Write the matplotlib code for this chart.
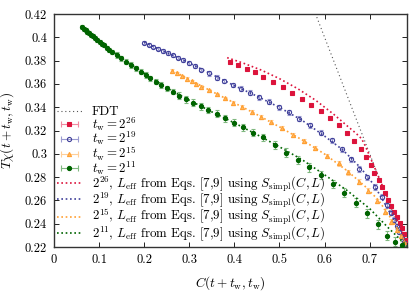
import matplotlib
matplotlib.use('Agg')
import matplotlib.pyplot as plt
from matplotlib.lines import Line2D
from matplotlib.legend_handler import HandlerLine2D
from matplotlib.ticker import FormatStrFormatter
import numpy as np

plt.rcParams['font.family'] = 'serif'
plt.rcParams['font.serif'] = ['cmr10']
plt.rcParams['mathtext.fontset'] = 'cm'
plt.rcParams['axes.formatter.use_mathtext'] = True

# data points, t_w = 2^26
c_26 = [0.390, 0.409, 0.427, 0.446, 0.464, 0.486, 0.507, 0.528, 0.550, 0.571, 0.592, 0.613, 0.631, 0.649, 0.665,
        0.680, 0.692, 0.702, 0.710, 0.721, 0.727, 0.734, 0.741, 0.747, 0.755, 0.760, 0.767, 0.771, 0.776, 0.780]
y_26 = [0.3791, 0.3762, 0.3731, 0.3700, 0.3659, 0.3619, 0.3573, 0.3524, 0.3473, 0.3422, 0.3367, 0.3305, 0.3245, 0.3176, 0.3110,
        0.3041, 0.2970, 0.2901, 0.2833, 0.2775, 0.2718, 0.2661, 0.2603, 0.2555, 0.2503, 0.2455, 0.2403, 0.2360, 0.2309, 0.2260]
e_26 = [0.0008] * len(c_26)

# t_w = 2^19
c_19 = [0.200, 0.210, 0.220, 0.230, 0.241, 0.252, 0.263, 0.275, 0.287, 0.299, 0.312, 0.327, 0.344, 0.361, 0.378, 0.396,
        0.415, 0.435, 0.455, 0.477, 0.499, 0.521, 0.544, 0.568, 0.591, 0.616, 0.638, 0.658, 0.677, 0.695, 0.712, 0.727,
        0.738, 0.747, 0.754, 0.760, 0.766, 0.771, 0.776]
y_19 = [0.3954, 0.3937, 0.3920, 0.3902, 0.3883, 0.3864, 0.3845, 0.3825, 0.3804, 0.3780, 0.3752, 0.3722, 0.3690, 0.3653,
        0.3625, 0.3590, 0.3559, 0.3524, 0.3485, 0.3447, 0.3399, 0.3356, 0.3301, 0.3244, 0.3181, 0.3116, 0.3040, 0.2955,
        0.2870, 0.2798, 0.2715, 0.2632, 0.2561, 0.2495, 0.2432, 0.2380, 0.2331, 0.2288, 0.2246]
e_19 = [0.0015] * 12 + [0.002] * 14 + [0.0022] * 13

# t_w = 2^15
c_15 = [0.262, 0.272, 0.283, 0.294, 0.305, 0.316, 0.327, 0.344, 0.361, 0.379, 0.398, 0.418, 0.438, 0.459, 0.481,
        0.505, 0.531, 0.555, 0.579, 0.605, 0.631, 0.653, 0.677, 0.696, 0.716, 0.733, 0.747, 0.760, 0.769, 0.775]
y_15 = [0.3713, 0.3692, 0.3668, 0.3645, 0.3621, 0.3598, 0.3576, 0.3545, 0.3511, 0.3476, 0.3439, 0.3399, 0.3359, 0.3316,
        0.3270, 0.3219, 0.3164, 0.3107, 0.3047, 0.2985, 0.2918, 0.2841, 0.2760, 0.2684, 0.2595, 0.2503, 0.2417, 0.2346,
        0.2294, 0.2246]
e_15 = [0.0012] * 10 + [0.0016] * 10 + [0.002] * 10

# t_w = 2^11
c_11 = [0.062, 0.066, 0.070, 0.074, 0.078, 0.082, 0.086, 0.091, 0.096, 0.101, 0.106, 0.111, 0.117, 0.123, 0.129,
        0.139, 0.149, 0.160, 0.171, 0.182, 0.192, 0.204, 0.214, 0.226, 0.237, 0.250, 0.265, 0.278, 0.293, 0.309,
        0.325, 0.342, 0.361, 0.379, 0.399, 0.420, 0.442, 0.464, 0.490, 0.514, 0.540, 0.565, 0.591, 0.618, 0.644,
        0.670, 0.695, 0.718, 0.739, 0.757, 0.772]
y_11 = [0.4085, 0.4072, 0.4059, 0.4046, 0.4033, 0.4020, 0.4008, 0.3992, 0.3976, 0.3960, 0.3945, 0.3930, 0.3912, 0.3894,
        0.3876, 0.3848, 0.3820, 0.3791, 0.3762, 0.3734, 0.3705, 0.3676, 0.3648, 0.3619, 0.3591, 0.3562, 0.3533, 0.3499,
        0.3468, 0.3439, 0.3410, 0.3376, 0.3342, 0.3305, 0.3267, 0.3227, 0.3181, 0.3142, 0.3076, 0.3010, 0.2947, 0.2884,
        0.2818, 0.2741, 0.2666, 0.2580, 0.2489, 0.2397, 0.2297, 0.2245, 0.2215]
e_11 = [0.0017] * 15 + [0.0022] * 12 + [0.003] * 11 + [0.0038] * 13

# theory curves (L_eff from Eqs. [7,9])
tc_26 = [0.384, 0.42, 0.46, 0.50, 0.54, 0.58, 0.62, 0.65, 0.67, 0.682, 0.690, 0.70, 0.72, 0.74, 0.76, 0.785]
ty_26 = [0.3825, 0.3778, 0.3718, 0.3645, 0.3560, 0.3460, 0.3340, 0.3240, 0.3175, 0.3130, 0.3070, 0.2980, 0.2800,
         0.2620, 0.2440, 0.2215]
tc_19 = [0.200, 0.25, 0.30, 0.35, 0.40, 0.45, 0.50, 0.55, 0.60, 0.64, 0.68, 0.71, 0.74, 0.76, 0.785]
ty_19 = [0.3958, 0.3868, 0.3780, 0.3682, 0.3585, 0.3495, 0.3398, 0.3288, 0.3152, 0.3035, 0.2880, 0.2730, 0.2530,
         0.2380, 0.2200]
tc_15 = [0.262, 0.30, 0.35, 0.40, 0.45, 0.50, 0.55, 0.60, 0.65, 0.69, 0.72, 0.75, 0.785]
ty_15 = [0.3718, 0.3637, 0.3536, 0.3437, 0.3337, 0.3231, 0.3120, 0.2998, 0.2855, 0.2720, 0.2600, 0.2430, 0.2205]
tc_11 = [0.060, 0.08, 0.10, 0.13, 0.16, 0.20, 0.25, 0.30, 0.35, 0.40, 0.45, 0.50, 0.55, 0.60, 0.65, 0.70, 0.74, 0.785]
ty_11 = [0.4092, 0.4030, 0.3966, 0.3880, 0.3795, 0.3690, 0.3565, 0.3460, 0.3360, 0.3265, 0.3165, 0.3060, 0.2950,
         0.2820, 0.2685, 0.2530, 0.2370, 0.2200]

fdt_c = np.array([0.55, 0.80])
fdt_y = 1 - fdt_c

exps = ['26', '19', '15', '11']
colors = ['#dc143c', '#40409a', '#ffa033', '#006400']
light = ['#f08aa0', '#9a9ad0', '#ffcf99', '#80b880']
markers = ['s', 'o', '^', 'o']
faces = ['#dc143c', 'none', '#ffb860', '#006400']
data = [(c_26, y_26, e_26), (c_19, y_19, e_19), (c_15, y_15, e_15), (c_11, y_11, e_11)]
theory = [(tc_26, ty_26), (tc_19, ty_19), (tc_15, ty_15), (tc_11, ty_11)]

fig = plt.figure(figsize=(4.15, 2.91), dpi=100)
ax = fig.add_axes([0.130, 0.151, 0.851, 0.801])

ax.plot(fdt_c, fdt_y, color='#555555', ls=(0, (1, 2.5)), lw=0.8)

for (c, y, e), col, lc, m, fc in zip(data, colors, light, markers, faces):
    ax.errorbar(c, y, yerr=e, fmt='none', ecolor=lc, elinewidth=0.8, capsize=1.6, capthick=0.8, zorder=2)
    ax.plot(c, y, ls='none', marker=m, ms=3.0, mfc=fc, mec=col, mew=0.8, zorder=3)

for (c, y), col in zip(theory, colors):
    ax.plot(c, y, color=col, ls=(0, (1, 1.6)), lw=1.2, zorder=4)

ax.set_xlim(0, 0.783)
ax.set_ylim(0.22, 0.42)
ax.set_xticks(np.arange(0, 0.75, 0.1))
ax.set_yticks(np.arange(0.22, 0.421, 0.02))
ax.xaxis.set_major_formatter(FormatStrFormatter('%g'))
ax.yaxis.set_major_formatter(FormatStrFormatter('%g'))
ax.tick_params(direction='in', top=True, right=True, labelsize=9, length=3.5, width=0.6, pad=5)
for s in ax.spines.values():
    s.set_linewidth(1.0)
    s.set_color('#333333')

ax.set_xlabel(r'$C(t+t_\mathrm{w},t_\mathrm{w})$', fontsize=9.5, labelpad=6)
ax.set_ylabel(r'$T\chi(t+t_\mathrm{w},t_\mathrm{w})$', fontsize=9.5, labelpad=6)

# legend entries built gnuplot style: marker with a horizontal error bar
handles = [Line2D([], [], color='#555555', ls=(0, (1, 2.5)), lw=0.8)]
hmap = {}
for col, lc, m, fc in zip(colors, light, markers, faces):
    bar = Line2D([], [], color=lc, lw=0.8, marker='|', ms=4.5, mew=0.8)
    mk = Line2D([], [], ls='none', marker=m, ms=3.0, mfc=fc, mec=col, mew=0.8)
    hmap[bar] = HandlerLine2D(numpoints=2)
    hmap[mk] = HandlerLine2D(numpoints=1)
    handles.append((bar, mk))
for col in colors:
    handles.append(Line2D([], [], color=col, ls=(0, (1, 1.6)), lw=1.2))
labels = ['FDT'] + [r'$t_\mathrm{w}=2^{%s}$' % p for p in exps] + \
    [r'$2^{%s}$, $L_\mathrm{eff}$ from Eqs. [7,9] using $S_\mathrm{simpl}(C,L)$' % p for p in exps]
ax.legend(handles, labels, handler_map=hmap, loc='lower left', frameon=False, fontsize=9.3,
          handlelength=1.9, handletextpad=0.8, labelspacing=-0.22, borderaxespad=0.15, borderpad=0.1)

fig.savefig('out.png', dpi=100)
